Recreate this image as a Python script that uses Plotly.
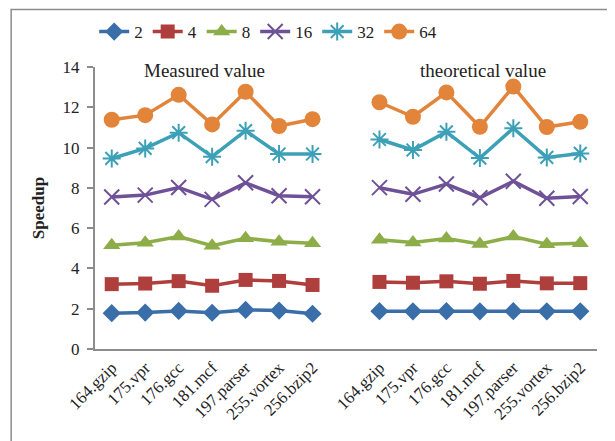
import plotly.graph_objects as go

benchmarks = ["164.gzip", "175.vpr", "176.gcc", "181.mcf", "197.parser", "255.vortex", "256.bzip2"]
series_names = ["2", "4", "8", "16", "32", "64"]

measured = {
    "2":  [1.78, 1.81, 1.89, 1.80, 1.94, 1.91, 1.75],
    "4":  [3.22, 3.25, 3.37, 3.14, 3.43, 3.38, 3.18],
    "8":  [5.15, 5.28, 5.58, 5.13, 5.50, 5.32, 5.25],
    "16": [7.55, 7.64, 8.02, 7.43, 8.25, 7.61, 7.56],
    "32": [9.46, 9.96, 10.74, 9.55, 10.84, 9.68, 9.68],
    "64": [11.38, 11.61, 12.62, 11.15, 12.77, 11.07, 11.41],
}
theoretical = {
    "2":  [1.88, 1.87, 1.88, 1.87, 1.88, 1.87, 1.87],
    "4":  [3.33, 3.29, 3.36, 3.24, 3.38, 3.26, 3.27],
    "8":  [5.42, 5.29, 5.49, 5.21, 5.58, 5.20, 5.25],
    "16": [8.01, 7.68, 8.19, 7.51, 8.33, 7.48, 7.57],
    "32": [10.40, 9.88, 10.78, 9.48, 10.96, 9.51, 9.71],
    "64": [12.25, 11.53, 12.74, 11.03, 13.03, 11.02, 11.28],
}
y_ticks = [0, 2, 4, 6, 8, 10, 12, 14]

colors = {"2": "#3A6EA8", "4": "#AE3F3C", "8": "#8DAD48", "16": "#6E5196",
          "32": "#3CA0B6", "64": "#E2843A"}
symbols = {"2": "diamond", "4": "square", "8": "triangle-up", "16": "x-thin",
           "32": "asterisk", "64": "circle"}
sizes = {"2": 14, "4": 14, "8": 15, "16": 15, "32": 15, "64": 16}

labels = benchmarks + [""] + benchmarks
xs = list(range(len(labels)))

font_family = "Liberation Serif, Times New Roman, serif"

fig = go.Figure()
for s in series_names:
    ys = measured[s] + [None] + theoretical[s]
    open_sym = symbols[s] in ("x-thin", "asterisk")
    fig.add_trace(go.Scatter(
        x=xs, y=ys, name=s, mode="lines+markers", connectgaps=False,
        line=dict(color=colors[s], width=3.5),
        marker=dict(symbol=symbols[s], size=sizes[s], color=colors[s],
                    line=dict(color=colors[s], width=2 if open_sym else 0)),
    ))

# The page body has an 8px margin, so the figure is sized/offset to compensate.
fig.update_layout(
    width=607, height=433,
    margin=dict(l=87, r=18, t=59, b=92, autoexpand=False),
    paper_bgcolor="white", plot_bgcolor="white",
    font=dict(family=font_family, size=16, color="#222"),
    showlegend=True,
    legend=dict(orientation="h", x=0.345, xanchor="center", y=1.124, yanchor="middle",
                font=dict(size=17, family=font_family, color="#222"),
                itemwidth=30, tracegroupgap=0, bgcolor="rgba(0,0,0,0)"),
    xaxis=dict(range=[-0.5, len(labels) - 0.5], tickmode="array", tickvals=xs,
               ticktext=labels, tickangle=-45, showline=True, linecolor="#8c8c8c",
               linewidth=2, showgrid=False, zeroline=False, ticks="", automargin=False,
               tickfont=dict(size=17, family=font_family, color="#222")),
    yaxis=dict(range=[0, 14], tickvals=y_ticks, showline=True, linecolor="#8c8c8c",
               linewidth=2, showgrid=False, zeroline=False, ticks="outside",
               ticklen=6, tickcolor="#8c8c8c", tickwidth=1.5, automargin=False,
               ticklabelstandoff=4,
               tickfont=dict(size=17, family=font_family, color="#222"),
               title=dict(text="<b>Speedup</b>", font=dict(size=17, family=font_family, color="#222"),
                          standoff=14)),
    annotations=[
        dict(text="Measured value", x=2.78, y=13.85, xref="x", yref="y",
             showarrow=False, font=dict(size=19, family=font_family, color="#222")),
        dict(text="theoretical value", x=11.08, y=13.85, xref="x", yref="y",
             showarrow=False, font=dict(size=19, family=font_family, color="#222")),
    ],
    shapes=[dict(type="rect", xref="paper", yref="paper",
                 x0=-0.167, x1=1.2, y0=-0.5, y1=1.204,
                 line=dict(color="#8c8c8c", width=1.5), fillcolor="rgba(0,0,0,0)",
                 layer="below")],
)

fig.write_html("out.html")
